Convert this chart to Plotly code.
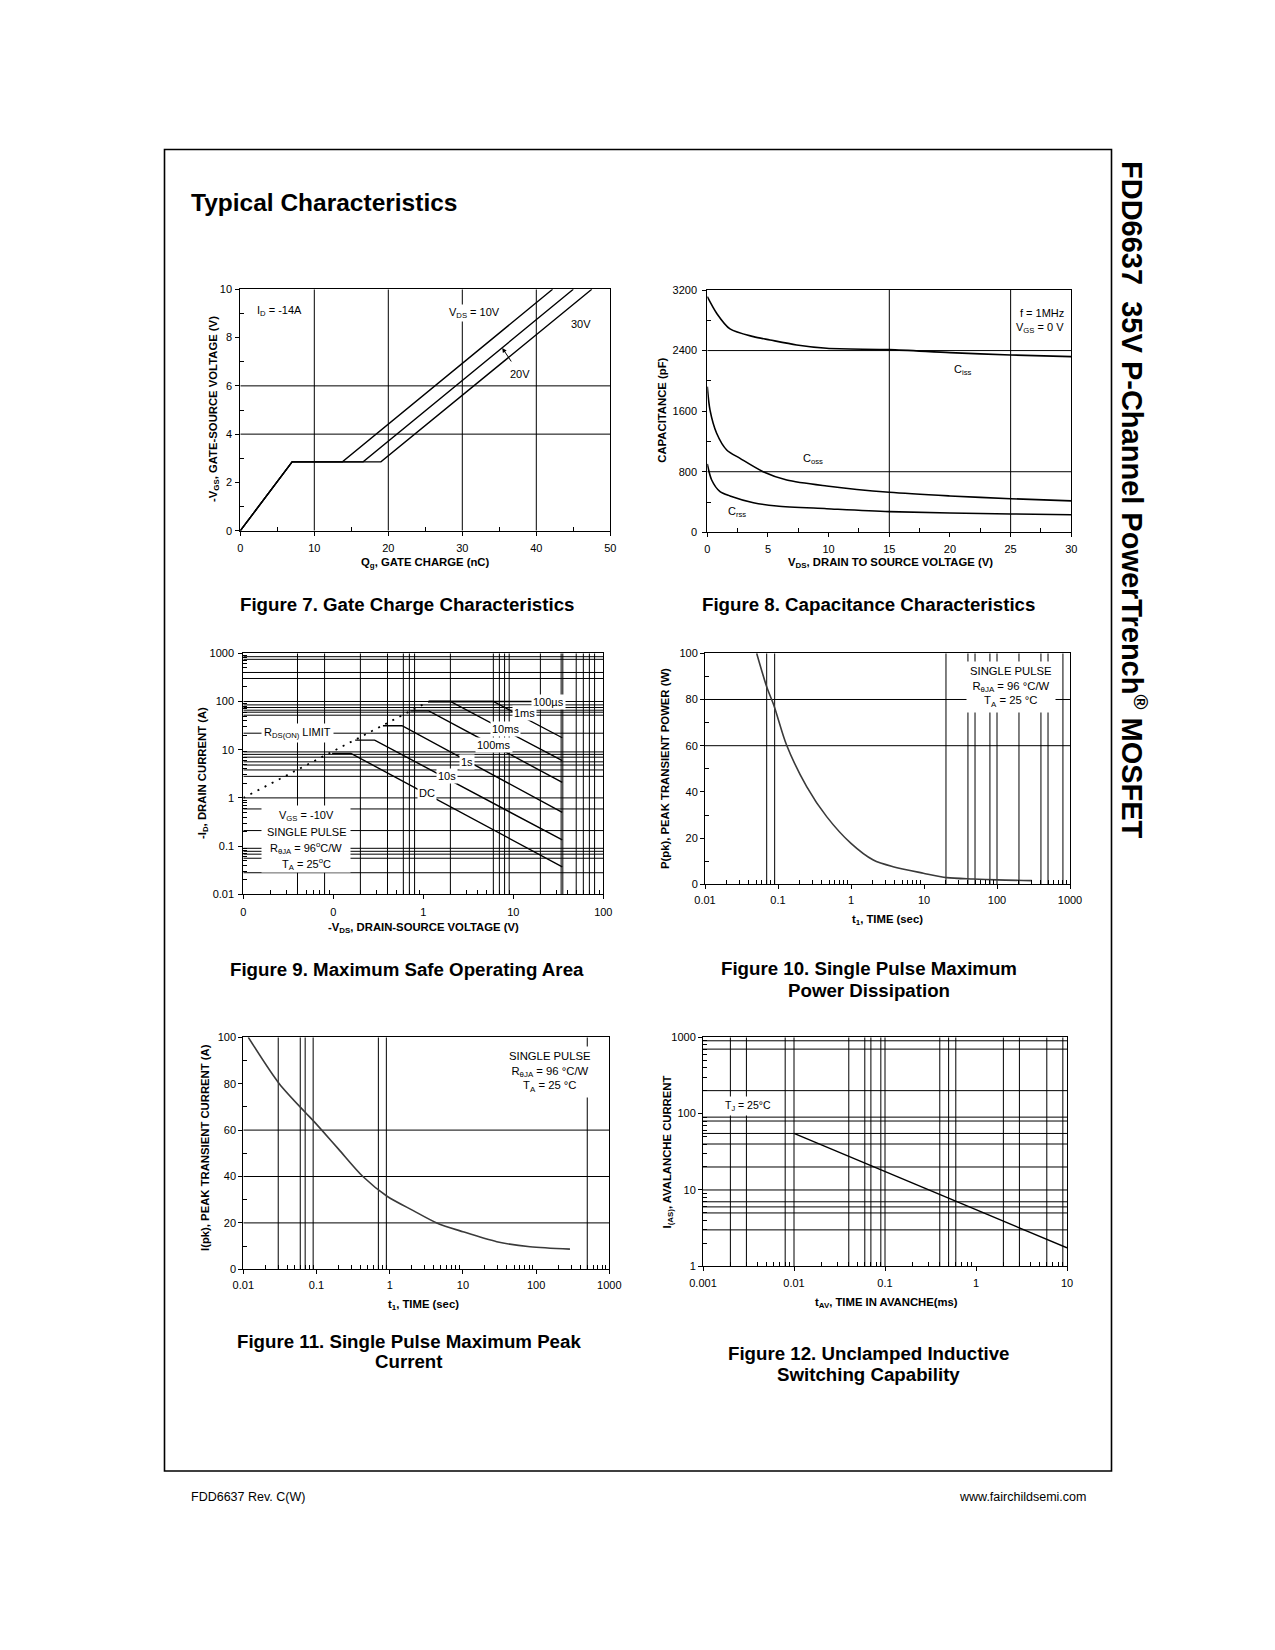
import numpy as np
import plotly.graph_objects as go

W, H = 1275, 1650
FONT = "Liberation Sans, Arial, Helvetica, sans-serif"

# ======================= DATA =======================
# Figure 7 - gate charge
qg_vds10 = [0.0, 7.0, 13.8, 42.2]
vgs_vds10 = [0.0, 2.85, 2.85, 10.0]
qg_vds20 = [0.0, 7.0, 16.6, 45.0]
vgs_vds20 = [0.0, 2.85, 2.85, 10.0]
qg_vds30 = [0.0, 7.0, 19.0, 47.5]
vgs_vds30 = [0.0, 2.85, 2.85, 10.0]
f7_xgrid = [10, 20, 30, 40]
f7_ygrid = [4, 6]
f7_xticks = [0, 10, 20, 30, 40, 50]
f7_yticks = [0, 2, 4, 6, 8, 10]

# Figure 8 - capacitance
vds_ciss = [0, 0.77, 1.87, 3.8, 5.17, 7.37, 9.84, 15, 20, 25, 30]
ciss = [3112, 2893, 2686, 2584, 2540, 2474, 2430, 2412, 2373, 2342, 2320]
vds_coss = [0, 0.22, 0.77, 1.6, 2.7, 4.6, 6.55, 9.84, 15, 20, 25, 30]
coss = [1923, 1616, 1308, 1087, 977, 801, 691, 612, 528, 480, 444, 415]
vds_crss = [0, 0.36, 1.05, 1.87, 3.8, 5.72, 9.84, 15, 25, 30]
crss = [902, 691, 537, 480, 391, 347, 312, 273, 242, 232]
f8_xgrid = [15, 25]
f8_ygrid = [800, 2400]
f8_xticks = [0, 5, 10, 15, 20, 25, 30]
f8_yticks = [0, 800, 1600, 2400, 3200]

# Figure 9 - safe operating area
soa_rds_v = [0.01, 1.15]
soa_rds_i = [1.0, 100.0]
soa_100us_v = [1.15, 35]
soa_100us_i = [100, 100]
soa_1ms_v = [1.15, 6.0, 35]
soa_1ms_i = [100, 100, 17.7]
soa_10ms_v = [1.15, 2.0, 35]
soa_10ms_i = [100, 100, 5.9]
soa_100ms_v = [0.72, 1.15, 35]
soa_100ms_i = [64, 64, 2.1]
soa_1s_v = [0.356, 0.58, 35]
soa_1s_i = [31.5, 31.5, 0.5]
soa_10s_v = [0.175, 0.288, 35]
soa_10s_i = [15.8, 15.8, 0.134]
soa_dc_v = [0.097, 0.157, 35]
soa_dc_i = [8.4, 8.4, 0.037]
f9_xgrid = [0.04, 0.08, 0.2, 0.4, 0.6, 0.7, 0.8, 2, 6, 7, 8, 9, 20, 34, 35.5, 50, 60, 70, 80]
f9_ygrid = [850, 750, 400, 300, 100, 85, 75, 66, 60, 52, 22, 9, 8, 7, 5.6, 4.8, 3.8, 2.8,
            1, 0.59, 0.21, 0.09, 0.078, 0.068, 0.056, 0.028]
f9_xticks = [0.01, 0.1, 1, 10, 100]
f9_xticktext = ["0", "0", "1", "10", "100"]
f9_yticks = [0.01, 0.1, 1, 10, 100, 1000]
f9_yticktext = ["0.01", "0.1", "1", "10", "100", "1000"]

# Figure 10 - single pulse power
t_ppk = [0.051, 0.07, 0.089, 0.131, 0.247, 0.464, 1.0, 2.02, 3.77, 9.8, 20.5, 47, 100, 300]
p_pk = [100, 85.5, 76.9, 60.3, 42.3, 29.3, 17.7, 10.5, 7.6, 4.8, 2.9, 2.3, 1.9, 1.6]
f10_xgrid = [0.07, 0.09, 20, 40, 50, 80, 100, 200, 400, 500, 800]
f10_ygrid = [60, 80]
time_ticks = [0.01, 0.1, 1, 10, 100, 1000]
time_ticktext = ["0.01", "0.1", "1", "10", "100", "1000"]
pct_ticks = [0, 20, 40, 60, 80, 100]

# Figure 11 - single pulse current
t_ipk = [0.0117, 0.031, 0.07, 0.09, 0.118, 0.2, 0.43, 0.92, 2.1, 4.4, 10, 29, 82.6, 290]
i_pk = [100, 80, 67.7, 64.1, 60, 51.8, 40, 31.5, 25.3, 20, 16.2, 11.9, 9.7, 8.7]
f11_xgrid = [0.03, 0.06, 0.07, 0.09, 0.7, 0.9, 500]
f11_ygrid = [20, 40, 60]

# Figure 12 - unclamped inductive switching
t_av = [0.01, 10]
i_as = [55, 1.75]
f12_xgrid = [0.002, 0.003, 0.008, 0.01, 0.04, 0.06, 0.07, 0.09, 0.1, 0.4, 0.5, 0.6, 2, 3, 6, 9]
f12_ygrid = [900, 700, 200, 90, 80, 55, 40, 20, 10, 7, 6, 5, 3]
f12_xticks = [0.001, 0.01, 0.1, 1, 10]
f12_xticktext = ["0.001", "0.01", "0.1", "1", "10"]
f12_yticks = [1, 10, 100, 1000]
f12_yticktext = ["1", "10", "100", "1000"]

# ======================= LAYOUT HELPERS =======================
def PX(x):
    return x / W


def PY(y):
    return 1 - y / H


# panel boxes in page pixels: left, right, top, bottom
panels = {
    1: (240.3, 610.3, 289.3, 530.7),
    2: (707.3, 1071.3, 290.0, 532.3),
    3: (243.3, 603.3, 653.3, 894.3),
    4: (705.0, 1070.0, 653.3, 884.3),
    5: (243.3, 609.3, 1037.3, 1269.3),
    6: (703.0, 1067.0, 1037.3, 1266.3),
}


def dom(i):
    L, R, T, B = panels[i]
    return [PX(L), PX(R)], [PY(B), PY(T)]


base = dict(showline=True, mirror=True, linecolor="black", linewidth=1, showgrid=False,
            zeroline=False, ticks="outside", ticklen=4, tickcolor="black", tickwidth=1,
            tickfont=dict(family=FONT, size=11, color="black"), fixedrange=True,
            automargin=False)


def lin_axis(domain, rng, tickvals, m0, md, anchor, standoff):
    return dict(domain=domain, range=rng, type="linear", tickmode="array", tickvals=tickvals,
                ticktext=[str(v) for v in tickvals], anchor=anchor, ticklabelstandoff=standoff,
                minor=dict(ticks="inside", ticklen=4, tickcolor="black", tickwidth=1,
                           tick0=m0, dtick=md, showgrid=False), **base)


def log_minor(lo, hi):
    return [m * 10.0 ** k for k in range(lo, hi) for m in range(2, 10)]


def log_axis(domain, lo, hi, tickvals, ticktext, anchor, standoff):
    return dict(domain=domain, range=[lo, hi], type="log", tickmode="array", tickvals=tickvals,
                ticktext=ticktext, anchor=anchor, ticklabelstandoff=standoff,
                minor=dict(ticks="inside", ticklen=4, tickcolor="black", tickwidth=1,
                           tickmode="array", tickvals=log_minor(lo, hi), showgrid=False), **base)


fig = go.Figure()


def grid(xs, ys, xlim, ylim, ax):
    gx, gy = [], []
    for v in xs:
        gx += [v, v, None]
        gy += [ylim[0], ylim[1], None]
    for v in ys:
        gx += [xlim[0], xlim[1], None]
        gy += [v, v, None]
    fig.add_trace(go.Scatter(x=gx, y=gy, mode="lines", line=dict(color="black", width=1),
                             hoverinfo="skip", showlegend=False, xaxis="x" + ax, yaxis="y" + ax))


def curve(x, y, ax, color="black", width=1.4, shape="linear", dash=None):
    fig.add_trace(go.Scatter(x=x, y=y, mode="lines",
                             line=dict(color=color, width=width, shape=shape, dash=dash,
                                       smoothing=0.8 if shape == "spline" else None),
                             hoverinfo="skip", showlegend=False, xaxis="x" + ax, yaxis="y" + ax))


# ---- Figure 7 ----
grid(f7_xgrid, f7_ygrid, (0, 50), (0, 10), "")
curve(qg_vds10, vgs_vds10, "")
curve(qg_vds20, vgs_vds20, "")
curve(qg_vds30, vgs_vds30, "")
# ---- Figure 8 ----
grid(f8_xgrid, f8_ygrid, (0, 30), (0, 3200), "2")
curve(vds_ciss, ciss, "2", width=1.6, shape="spline")
curve(vds_coss, coss, "2", width=1.6, shape="spline")
curve(vds_crss, crss, "2", width=1.6, shape="spline")
# ---- Figure 9 ----
grid(f9_xgrid, f9_ygrid, (0.01, 100), (0.01, 1000), "3")
curve(soa_rds_v, soa_rds_i, "3", width=1.8, dash="2px,6px")
for vv, ii in [(soa_100us_v, soa_100us_i), (soa_1ms_v, soa_1ms_i), (soa_10ms_v, soa_10ms_i),
               (soa_100ms_v, soa_100ms_i), (soa_1s_v, soa_1s_i), (soa_10s_v, soa_10s_i),
               (soa_dc_v, soa_dc_i)]:
    curve(vv, ii, "3", width=1.4)
# ---- Figure 10 ----
grid(f10_xgrid, f10_ygrid, (0.01, 1000), (0, 100), "4")
curve(t_ppk, p_pk, "4", color="#3a3a3a", width=1.6, shape="spline")
# ---- Figure 11 ----
grid(f11_xgrid, f11_ygrid, (0.01, 1000), (0, 100), "5")
curve(t_ipk, i_pk, "5", color="#3a3a3a", width=1.6, shape="spline")
# ---- Figure 12 ----
grid(f12_xgrid, f12_ygrid, (0.001, 10), (1, 1000), "6")
curve(t_av, i_as, "6", width=1.4)

# ======================= AXES =======================
axes = {}
d = dom(1)
axes["xaxis"] = lin_axis(d[0], [0, 50], f7_xticks, 5, 10, "y", 3)
axes["yaxis"] = lin_axis(d[1], [0, 10], f7_yticks, 1, 2, "x", 1)
d = dom(2)
axes["xaxis2"] = lin_axis(d[0], [0, 30], f8_xticks, 2.5, 5, "y2", 2)
axes["yaxis2"] = lin_axis(d[1], [0, 3200], f8_yticks, 400, 800, "x2", 3)
d = dom(3)
axes["xaxis3"] = log_axis(d[0], -2, 2, f9_xticks, f9_xticktext, "y3", 3)
axes["yaxis3"] = log_axis(d[1], -2, 3, f9_yticks, f9_yticktext, "x3", 2)
d = dom(4)
axes["xaxis4"] = log_axis(d[0], -2, 3, time_ticks, time_ticktext, "y4", 1)
axes["yaxis4"] = lin_axis(d[1], [0, 100], pct_ticks, 10, 20, "x4", 0)
d = dom(5)
axes["xaxis5"] = log_axis(d[0], -2, 3, time_ticks, time_ticktext, "y5", 1)
axes["yaxis5"] = lin_axis(d[1], [0, 100], pct_ticks, 10, 20, "x5", 0)
d = dom(6)
axes["xaxis6"] = log_axis(d[0], -3, 1, f12_xticks, f12_xticktext, "y6", 2)
axes["yaxis6"] = log_axis(d[1], 0, 3, f12_yticks, f12_yticktext, "x6", 0)

# ======================= TEXT =======================
ann = []


def T(text, x, y, size=11, bold=False, xanchor="center", angle=0, yanchor="middle"):
    if bold:
        text = "<b>" + text + "</b>"
    ann.append(dict(text=text, x=PX(x), y=PY(y), xref="paper", yref="paper", showarrow=False,
                    xanchor=xanchor, yanchor=yanchor, textangle=angle,
                    font=dict(family=FONT, size=size, color="black")))


def D(text, x, y, ax, xlog=False, ylog=False, size=11, xanchor="center", bg=None, pad=1):
    a = dict(text=text, x=np.log10(x) if xlog else x, y=np.log10(y) if ylog else y,
             xref="x" + ax, yref="y" + ax, showarrow=False, xanchor=xanchor, yanchor="middle",
             font=dict(family=FONT, size=size, color="black"), borderpad=pad)
    if bg:
        a["bgcolor"] = bg
    ann.append(a)


# page title and side title
T("Typical Characteristics", 189, 202, size=24.5, bold=True, xanchor="left")
T("FDD6637  35V P-Channel PowerTrench<sup>®</sup> MOSFET", 1134, 500, size=29, bold=True, angle=90)
T("FDD6637 Rev. C(W)", 188.5, 1497, size=12.5, xanchor="left")
T("www.fairchildsemi.com", 1088, 1497, size=12.5, xanchor="right")

# captions
T("Figure 7. Gate Charge Characteristics", 407.5, 604, size=18.7, bold=True)
T("Figure 8. Capacitance Characteristics", 868.7, 604, size=18.7, bold=True)
T("Figure 9. Maximum Safe Operating Area", 406.7, 969, size=18.7, bold=True)
T("Figure 10. Single Pulse Maximum", 868.7, 968, size=18.7, bold=True)
T("Power Dissipation", 868.7, 990, size=18.7, bold=True)
T("Figure 11. Single Pulse Maximum Peak", 409, 1341, size=18.7, bold=True)
T("Current", 409, 1361.5, size=18.7, bold=True)
T("Figure 12. Unclamped Inductive", 868.7, 1353, size=18.7, bold=True)
T("Switching Capability", 868.7, 1374, size=18.7, bold=True)

# axis titles
AT = 11.3
T("Q<sub>g</sub>, GATE CHARGE (nC)", 425, 563, size=AT, bold=True)
T("-V<sub>GS</sub>, GATE-SOURCE VOLTAGE (V)", 214, 409, size=AT, bold=True, angle=-90)
T("V<sub>DS</sub>, DRAIN TO SOURCE VOLTAGE (V)", 890, 563, size=AT, bold=True)
T("CAPACITANCE (pF)", 661.7, 410, size=AT, bold=True, angle=-90)
T("-V<sub>DS</sub>, DRAIN-SOURCE VOLTAGE (V)", 423, 928, size=AT, bold=True)
T("-I<sub>D</sub>, DRAIN CURRENT (A)", 203, 773, size=AT, bold=True, angle=-90)
T("t<sub>1</sub>, TIME (sec)", 888, 920, size=AT, bold=True)
T("P(pk), PEAK TRANSIENT POWER (W)", 665, 769, size=AT, bold=True, angle=-90)
T("t<sub>1</sub>, TIME (sec)", 423.3, 1305, size=AT, bold=True)
T("I(pk), PEAK TRANSIENT CURRENT (A)", 205, 1148, size=AT, bold=True, angle=-90)
T("t<sub>AV</sub>, TIME IN AVANCHE(ms)", 886, 1302.5, size=AT, bold=True)
T("I<sub>(AS)</sub>, AVALANCHE CURRENT", 667.5, 1152, size=AT, bold=True, angle=-90)

# Figure 7 labels
D("I<sub>D</sub> = -14A", 2.0, 9.11, "", xanchor="left")
D("V<sub>DS</sub> = 10V", 31.6, 9.03, "", bg="white")
D("30V", 46.1, 8.56, "")
D("20V", 37.8, 6.49, "")
ann.append(dict(text="", x=35.4, y=7.57, xref="x", yref="y", ax=10, ay=15, showarrow=True,
                arrowhead=2, arrowsize=0.9, arrowwidth=1, arrowcolor="black", standoff=0))

# Figure 8 labels
D("f = 1MHz", 29.6, 2897, "2", xanchor="right")
D("V<sub>GS</sub> = 0 V", 29.6, 2699, "2", xanchor="right")
D("C<sub>iss</sub>", 21.1, 2144, "2")
D("C<sub>oss</sub>", 8.74, 964, "2")
D("C<sub>rss</sub>", 2.42, 264, "2")

# Figure 9 labels
D("100µs", 24.7, 100, "3", xlog=True, ylog=True, bg="white")
D("1ms", 13.4, 57, "3", xlog=True, ylog=True, bg="white")
D("10ms", 8.15, 26.9, "3", xlog=True, ylog=True, bg="white")
D("100ms", 6.15, 12.5, "3", xlog=True, ylog=True, bg="white")
D("1s", 3.06, 5.64, "3", xlog=True, ylog=True, bg="white")
D("10s", 1.83, 2.85, "3", xlog=True, ylog=True, bg="white")
D("DC", 1.107, 1.28, "3", xlog=True, ylog=True, bg="white")
D("R<sub>DS(ON)</sub> LIMIT", 0.0403, 22.5, "3", xlog=True, ylog=True, bg="white", pad=2)
ann.append(dict(text="", x=PX(306), y=PY(838.5), xref="paper", yref="paper", width=88, height=66,
                showarrow=False, bgcolor="white", xanchor="center", yanchor="middle", borderpad=0))
T("V<sub>GS</sub> = -10V", 306, 816, size=11)
T("SINGLE PULSE", 306, 831.5, size=11)
T("R<sub>θJA</sub> = 96<sup>o</sup>C/W", 306, 848, size=11)
T("T<sub>A</sub> = 25<sup>o</sup>C", 306, 864, size=11)

# Figure 10 / 11 boxes
box_txt = "SINGLE PULSE<br>R<sub>θJA</sub> = 96 °C/W<br>T<sub>A</sub> = 25 °C"
D(box_txt, 154, 85.3, "4", xlog=True, size=11.3, bg="white", pad=3)
D(box_txt, 155, 84.9, "5", xlog=True, size=11.3, bg="white", pad=3)

# Figure 12 label
D("T<sub>J</sub> = 25°C", 0.00315, 127, "6", xlog=True, ylog=True, size=10.5, bg="white", pad=2)

shapes = [dict(type="rect", xref="paper", yref="paper", x0=PX(164.5), x1=PX(1111.5),
               y0=PY(1471), y1=PY(149.5), line=dict(color="black", width=1.6))]

fig.update_layout(width=W, height=H, margin=dict(l=0, r=0, t=0, b=0), showlegend=False,
                  paper_bgcolor="white", plot_bgcolor="white", annotations=ann, shapes=shapes,
                  font=dict(family=FONT, color="black"), **axes)

fig.write_html("out.html", config={"displayModeBar": False},
               post_script="document.body.style.margin='0';document.body.style.overflow='hidden';")
